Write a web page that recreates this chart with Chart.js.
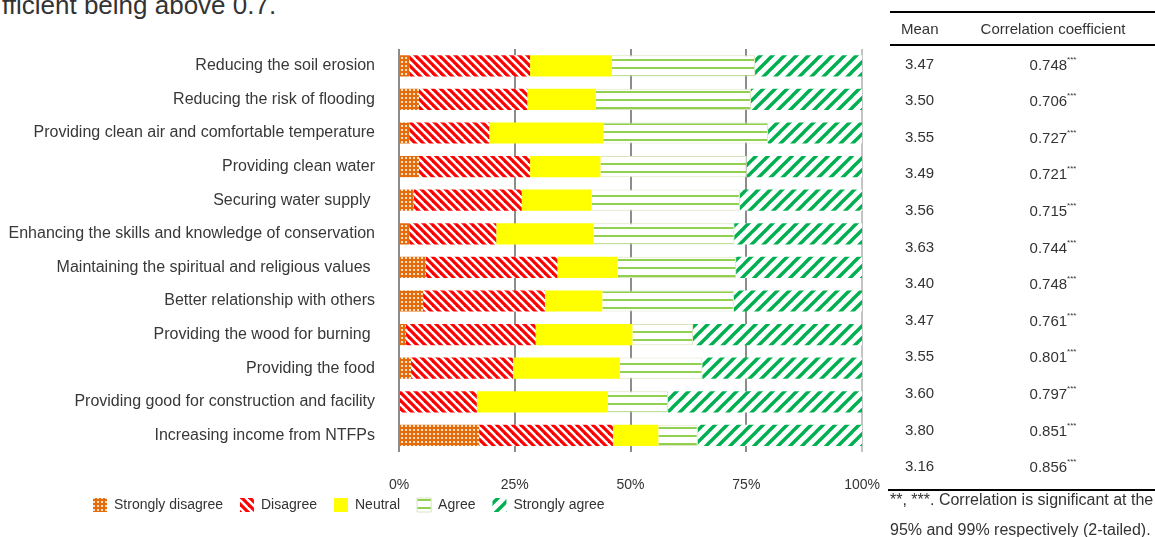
<!DOCTYPE html>
<html>
<head>
<meta charset="utf-8">
<script src="https://cdn.jsdelivr.net/npm/chart.js@4.4.1/dist/chart.umd.min.js"></script>
<style>
  html, body { margin: 0; padding: 0; background: #fff; }
  #wrap { position: relative; width: 1155px; height: 537px; overflow: hidden; font-family: "Liberation Sans", Arial, sans-serif; color: #333; }
  #lead { position: absolute; left: 2px; top: -8px; font-size: 26px; line-height: 26px; white-space: nowrap; }
  #c { position: absolute; left: 0; top: 0; }
  .rule { position: absolute; height: 2px; background: #000; right: 0; }
  .cell { position: absolute; font-size: 15px; line-height: 17px; white-space: nowrap; transform: translateY(-50%); }
  .cell sup { font-size: 8px; position: relative; top: -2px; }
  .note { font-size: 16px; line-height: 18px; }
</style>
</head>
<body>
<div id="wrap">
  <div id="lead">fficient being above 0.7.</div>
  <canvas id="c" width="905" height="537"></canvas>
  <div id="tbl"></div>
</div>
<script>
// chart data (percent of respondents)
const categories = [
  'Reducing the soil erosion',
  'Reducing the risk of flooding',
  'Providing clean air and comfortable temperature',
  'Providing clean water',
  'Securing water supply ',
  'Enhancing the skills and knowledge of conservation',
  'Maintaining the spiritual and religious values ',
  'Better relationship with others',
  'Providing the wood for burning ',
  'Providing the food',
  'Providing good for construction and facility',
  'Increasing income from NTFPs'
];
const stronglyDisagree = [2.2, 4.3, 2.2, 4.3, 3.2, 2.2, 5.8, 5.2, 1.5, 2.6, 0, 17.3];
const disagree = [26.1, 23.4, 17.3, 24.0, 23.3, 18.8, 28.4, 26.3, 28.0, 22.0, 16.8, 28.9];
const neutral = [17.7, 14.8, 24.6, 15.2, 15.1, 21.0, 13.0, 12.4, 20.9, 23.1, 28.3, 9.8];
const agree = [30.9, 33.5, 35.6, 31.6, 32.0, 30.4, 25.6, 28.4, 13.1, 17.8, 13.0, 8.5];
const stronglyAgree = [23.1, 24.0, 20.3, 24.9, 26.4, 27.6, 27.2, 27.7, 36.5, 34.5, 41.9, 35.5];
const xTicks = [0, 25, 50, 75, 100];

// table beside the chart
const means = ['3.47', '3.50', '3.55', '3.49', '3.56', '3.63', '3.40', '3.47', '3.55', '3.60', '3.80', '3.16'];
const correlations = ['0.748', '0.706', '0.727', '0.721', '0.715', '0.744', '0.748', '0.761', '0.801', '0.797', '0.851', '0.856'];
const stars = '***';

const canvas = document.getElementById('c');
const ctx = canvas.getContext('2d');

function makePattern(w, h, draw) {
  const t = document.createElement('canvas');
  t.width = w;
  t.height = h;
  draw(t.getContext('2d'), w, h);
  return ctx.createPattern(t, 'repeat');
}

const sdFill = makePattern(4, 4, (g, w, h) => {
  g.fillStyle = '#e46c0a';
  g.fillRect(0, 0, w, h);
  g.fillStyle = '#fbe0c8';
  g.fillRect(1, 1, 2, 2);
});

const dFill = makePattern(8, 8, (g, w, h) => {
  g.fillStyle = '#fff';
  g.fillRect(0, 0, w, h);
  g.strokeStyle = '#ff0000';
  g.lineWidth = 3.2;
  [-8, 0, 8].forEach(o => {
    g.beginPath();
    g.moveTo(o - 2, -2);
    g.lineTo(o + 10, 10);
    g.stroke();
  });
});

const aFill = makePattern(8, 8, (g, w, h) => {
  g.fillStyle = '#fff';
  g.fillRect(0, 0, w, h);
  g.fillStyle = '#92d050';
  g.fillRect(0, 3, w, 2);
});

const saFill = makePattern(12, 12, (g, w, h) => {
  g.fillStyle = '#fff';
  g.fillRect(0, 0, w, h);
  g.strokeStyle = '#00b050';
  g.lineWidth = 3.4;
  [-12, 0, 12].forEach(o => {
    g.beginPath();
    g.moveTo(o - 2, 14);
    g.lineTo(o + 14, -2);
    g.stroke();
  });
});

// the legend sits under the tick labels, starting near the left edge
const shiftLegend = {
  id: 'shiftLegend',
  beforeDraw(chart) {
    const lg = chart.legend;
    const w = lg.right - lg.left;
    const h = lg.bottom - lg.top;
    lg.left = 76;
    lg.right = 76 + w;
    lg.top = 481;
    lg.bottom = 481 + h;
  }
};

new Chart(canvas, {
  type: 'bar',
  data: {
    labels: categories,
    datasets: [
      { label: 'Strongly disagree', data: stronglyDisagree, backgroundColor: sdFill, borderWidth: 0 },
      { label: 'Disagree', data: disagree, backgroundColor: dFill, borderWidth: 0 },
      { label: 'Neutral', data: neutral, backgroundColor: '#ffff00', borderWidth: 0 },
      { label: 'Agree', data: agree, backgroundColor: aFill, borderColor: '#d7e4bd', borderWidth: 1 },
      { label: 'Strongly agree', data: stronglyAgree, backgroundColor: saFill, borderWidth: 0 }
    ]
  },
  options: {
    indexAxis: 'y',
    responsive: false,
    animation: false,
    devicePixelRatio: 1,
    layout: { padding: { top: 49, bottom: -23, left: 0, right: 0 } },
    datasets: { bar: { barPercentage: 0.63, categoryPercentage: 1 } },
    scales: {
      x: {
        stacked: true,
        min: 0,
        max: 100,
        afterBuildTicks: s => { s.ticks = xTicks.map(v => ({ value: v })); },
        ticks: {
          callback: v => v + '%',
          color: '#333',
          padding: 25,
          font: { family: 'Liberation Sans', size: 14 }
        },
        grid: {
          drawTicks: false,
          lineWidth: 2,
          color: c => (c.index === xTicks.length - 1 ? '#c4c4c4' : '#8c8c8c')
        },
        border: { display: false }
      },
      y: {
        stacked: true,
        afterFit: s => { s.width = 399; },
        ticks: {
          color: '#383838',
          padding: 24,
          font: { family: 'Liberation Sans', size: 16 }
        },
        grid: { display: false, drawTicks: false },
        border: { display: false }
      }
    },
    plugins: {
      legend: {
        position: 'bottom',
        align: 'start',
        labels: {
          boxWidth: 14,
          boxHeight: 14,
          padding: 17,
          color: '#333',
          font: { family: 'Liberation Sans', size: 14 }
        }
      },
      tooltip: { enabled: false }
    }
  },
  plugins: [shiftLegend]
});

// build the table as absolutely placed text
const tbl = document.getElementById('tbl');
function rule(top, left) {
  const d = document.createElement('div');
  d.className = 'rule';
  d.style.top = top + 'px';
  d.style.left = left + 'px';
  tbl.appendChild(d);
}
function cell(html, y, left, width, align, cls) {
  const d = document.createElement('div');
  d.className = 'cell' + (cls ? ' ' + cls : '');
  d.style.top = y + 'px';
  d.style.left = left + 'px';
  if (width) { d.style.width = width + 'px'; d.style.textAlign = align; }
  d.innerHTML = html;
  tbl.appendChild(d);
}
rule(11, 890);
cell('Mean', 28, 901);
cell('Correlation coefficient', 28, 973, 160, 'center');
rule(44, 890);
means.forEach((m, i) => {
  const y = 62.5 + i * 36.6;
  cell(m, y, 905);
  cell(correlations[i] + '<sup>' + stars + '</sup>', y, 1000, 106, 'center');
});
rule(489, 888);
cell('**, ***. Correlation is significant at the', 500, 890, 0, '', 'note');
cell('95% and 99% respectively (2-tailed).', 530, 890, 0, '', 'note');
</script>
</body>
</html>
